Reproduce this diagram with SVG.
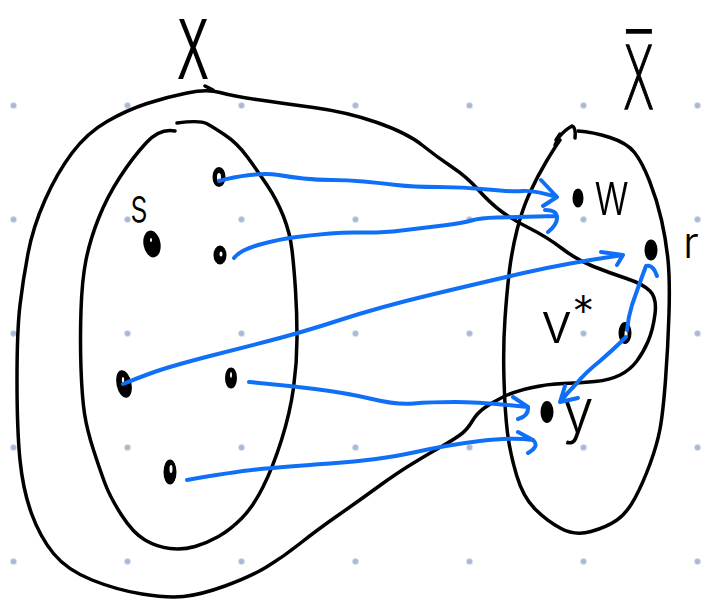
<svg xmlns="http://www.w3.org/2000/svg" width="709" height="601" viewBox="0 0 709 601">
  <style>
    .ink { fill: none; stroke: #000; stroke-width: 3.5; stroke-linecap: round; stroke-linejoin: round; }
    .pen { fill: none; stroke: #0f70f7; stroke-width: 4; stroke-linecap: round; stroke-linejoin: round; }
    .pt { fill: #000; stroke: #000; stroke-width: 2; }
    .hole { fill: #fff; }
    .hand { fill: #000; font-family: Inter, "DejaVu Sans", sans-serif; font-weight: 300; }
    .big { fill: #000; font-family: "Liberation Sans", Arial, sans-serif; }
    .bar { fill: #000; stroke: #000; stroke-width: 1.5; font-family: "DejaVu Sans", sans-serif; font-weight: 200; }
  </style>
  <defs>
    <pattern id="grid" patternUnits="userSpaceOnUse" x="-43.5" y="48.5" width="114" height="114">
      <circle cx="57" cy="57" r="3" fill="#a9b8d3"/>
    </pattern>
  </defs>

  <rect width="709" height="601" fill="#fff"/>
  <rect width="709" height="601" fill="url(#grid)"/>

  <!-- set X -->
  <g id="set-X">
    <path class="ink" d="M17,380 Q17,330 20,305 Q23,280 28,253.5 Q33,227 45,200 Q57,173 72,153 Q87,133 107,121.5 Q127,110 147,103.5 Q167,97 187,93 Q207,89 220,92.5 Q233,96 256.5,99.5 Q280,103 313.5,107.5 Q347,112 377,122.5 Q407,133 422,145 Q437,157 452,167 Q467,177 478.5,190 Q490,203 501.5,211.5 Q513,220 530,228.5 Q547,237 562,248.5 Q577,260 593.5,266.5 Q610,273 626.5,278.5 Q643,284 650,291 Q657,298 655,314 Q653,330 648,341.5 Q643,353 636.5,361.5 Q630,370 620,375 Q610,380 595,381.5 Q580,383 563.5,383.5 Q547,384 530,388 Q513,392 503,397 Q493,402 485,407.5 Q477,413 472,421.5 Q467,430 460,435 Q453,440 441.5,446.5 Q430,453 413.5,463 Q397,473 378.5,486.5 Q360,500 338.5,515 Q317,530 300,543.5 Q283,557 266.5,567 Q250,577 225,586 Q200,595 183.5,596.5 Q167,598 142,594 Q117,590 92,580 Q67,570 53.5,553.5 Q40,537 31.5,513.5 Q23,490 20,460 Q17,430 17,380 Z"/>
    <path class="ink" d="M205,86 L213,90"/>
    <text class="big" transform="translate(177,79) scale(0.55,1)" font-size="87">X</text>
  </g>

  <!-- subset of X -->
  <g id="subset">
    <path class="ink" d="M177,123 Q200,120 206.5,123.5 Q213,127 225,135 Q237,143 247,156.5 Q257,170 267,185 Q277,200 283.5,216.5 Q290,233 292,250 Q294,267 295.5,290 Q297,313 297,338 Q297,363 293.5,388 Q290,413 281.5,440 Q273,467 263,487 Q253,507 241.5,518.5 Q230,530 218.5,536.5 Q207,543 195,546.5 Q183,550 170,548.5 Q157,547 145,540 Q133,533 121.5,515 Q110,497 105,483.5 Q100,470 93.5,450 Q87,430 84.5,413.5 Q82,397 81,368.5 Q80,340 81,310 Q82,280 86,260 Q90,240 98.5,218.5 Q107,197 120,177 Q133,157 146.5,142.5 Q160,128 175,131"/>
  </g>

  <!-- set X-bar -->
  <g id="set-Xbar">
    <path class="ink" d="M578,131 Q593,132 610,137.5 Q627,143 634.5,152.5 Q642,162 649.5,181 Q657,200 661.5,220 Q666,240 668,260 Q670,280 669,313.5 Q668,347 665.5,380 Q663,413 660,429 Q657,445 650,464 Q643,483 635,498 Q627,513 617,520 Q607,527 591,531.5 Q575,536 561,528.5 Q547,521 535,509 Q523,497 516.5,475 Q510,453 507.5,433 Q505,413 504,380 Q503,347 505,318.5 Q507,290 509.5,270 Q512,250 517,230 Q522,210 529.5,193.5 Q537,177 546,162 Q555,147 560,140"/>
    <path class="ink" d="M555,145 L559,137 Q566,129 572,126 Q576,127 575,138 M556,140 L560,134"/>
    <text class="bar" transform="translate(622,109) scale(0.55,1)" font-size="88">X&#x305;</text>
  </g>

  <!-- points of X -->
  <g id="pt-a">
    <ellipse class="pt" cx="219" cy="177" rx="5.5" ry="9"/>
    <ellipse class="hole" cx="219" cy="177" rx="2" ry="4"/>
  </g>
  <g id="pt-s">
    <ellipse class="pt" cx="152" cy="244" rx="7.5" ry="12.5" transform="rotate(-10 152 244)"/>
    <ellipse class="hole" cx="151" cy="240" rx="1" ry="2"/>
    <text class="hand" transform="translate(130,222) scale(0.72,1)" font-size="48">s</text>
  </g>
  <g id="pt-b">
    <ellipse class="pt" cx="220" cy="255" rx="5.5" ry="8.5"/>
    <ellipse class="hole" cx="221" cy="254" rx="1.5" ry="2.5"/>
  </g>
  <g id="pt-c">
    <ellipse class="pt" cx="124" cy="384" rx="6.5" ry="13" transform="rotate(-12 124 384)"/>
    <ellipse class="hole" cx="123" cy="380" rx="1.2" ry="3"/>
  </g>
  <g id="pt-d">
    <ellipse class="pt" cx="231" cy="378" rx="5" ry="9.5"/>
    <ellipse class="hole" cx="231" cy="375" rx="1" ry="3"/>
  </g>
  <g id="pt-e">
    <ellipse class="pt" cx="170" cy="472" rx="5.5" ry="11.5"/>
    <ellipse class="hole" cx="171" cy="469" rx="1.5" ry="4"/>
  </g>

  <!-- points of X-bar -->
  <g id="pt-w">
    <ellipse class="pt" cx="578" cy="198" rx="4.5" ry="8.5"/>
    <text class="hand" transform="translate(594,215) scale(0.72,1)" font-size="60">w</text>
  </g>
  <g id="pt-r">
    <ellipse class="pt" cx="651" cy="250" rx="5.5" ry="9.5"/>
    <text class="hand" x="683" y="258" font-size="44">r</text>
  </g>
  <g id="pt-v">
    <ellipse class="pt" cx="625" cy="333" rx="5.5" ry="10"/>
    <ellipse class="hole" cx="626" cy="334" rx="1.5" ry="4"/>
    <text class="hand" x="541" y="343" font-size="56">v<tspan font-size="44" dy="-16">*</tspan></text>
  </g>
  <g id="pt-y">
    <ellipse class="pt" cx="547" cy="412" rx="5.5" ry="10"/>
    <text class="hand" transform="translate(562,432) scale(0.95,1)" font-size="60">y</text>
  </g>

  <!-- mapping arrows -->
  <g id="connectors">
    <path class="pen" d="M219,181 Q233,177 250,175 Q267,173 278.5,175 Q290,177 303.5,178.5 Q317,180 332,180 Q347,180 363.5,181.5 Q380,183 396.5,185 Q413,187 438,187 Q463,187 488,189.5 Q513,192 523,191 Q533,190 557,197 M541,180 L557,197 L543,206"/>
    <path class="pen" d="M234,258 Q240,250 260,244.5 Q280,239 296.5,237 Q313,235 330,233.5 Q347,232 363.5,232.5 Q380,233 401.5,230.5 Q423,228 443,225.5 Q463,223 471.5,220.5 Q480,218 496.5,217.5 Q513,217 557,216 M545,210 Q556,210 557,216 Q558,224 548,232"/>
    <path class="pen" d="M123,384 Q150,373 166.5,368 Q183,363 208,356.5 Q233,350 266.5,341.5 Q300,333 340,320 Q380,307 430,295 Q480,283 523.5,273 Q567,263 623,255 M601,252 L623,255 L617,265"/>
    <path class="pen" d="M627,330 Q628,318 632,305 Q640,282 646,266 Q653,264 657,276"/>
    <path class="pen" d="M626,337 Q615,348 600,361 Q585,373 577,383 Q568,392 560,402 M565,386 L560,402 L578,398"/>
    <path class="pen" d="M249,382 Q283,385 315,389 Q347,393 372,399 Q397,405 413.5,403.5 Q430,402 455,402 Q480,402 528,407 M513,397 L528,407 Q529,416 518,419"/>
    <path class="pen" d="M187,480 Q233,472 256.5,469.5 Q280,467 330,463.5 Q380,460 413.5,452.5 Q447,445 480,441 Q513,437 533,440 M518,432 L533,440 Q540,446 528,453"/>
  </g>
</svg>
